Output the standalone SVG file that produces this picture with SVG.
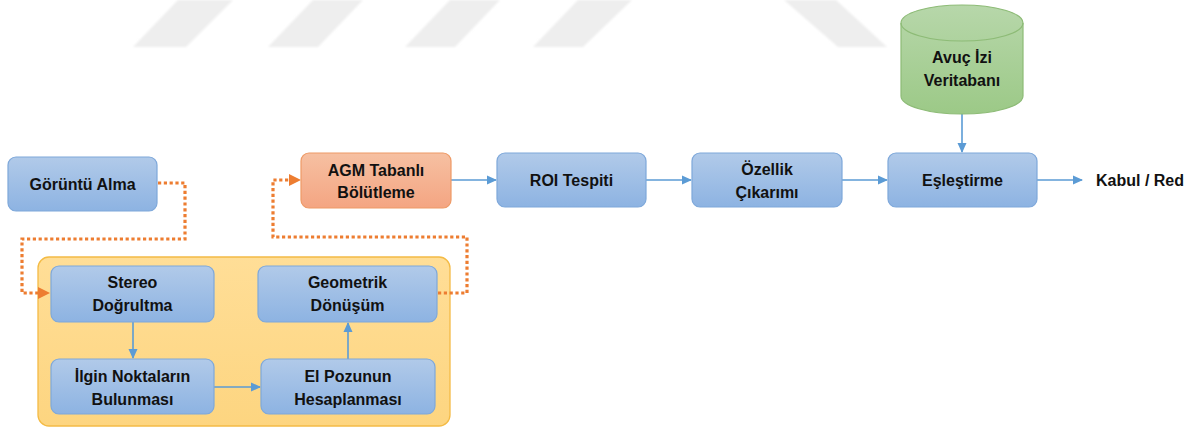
<svg xmlns="http://www.w3.org/2000/svg" width="1200" height="427" viewBox="0 0 1200 427">
<defs>
<linearGradient id="gBlue" x1="0" y1="0" x2="0" y2="1"><stop offset="0" stop-color="#B1CAE9"/><stop offset="1" stop-color="#8DB3E2"/></linearGradient>
<linearGradient id="gOrange" x1="0" y1="0" x2="0" y2="1"><stop offset="0" stop-color="#F6C0A2"/><stop offset="1" stop-color="#F4A582"/></linearGradient>
<linearGradient id="gGreen" x1="0" y1="0" x2="0" y2="1"><stop offset="0" stop-color="#B7D7AA"/><stop offset="1" stop-color="#9CC987"/></linearGradient>
<linearGradient id="gYellow" x1="0" y1="0" x2="0" y2="1"><stop offset="0" stop-color="#FFDE97"/><stop offset="1" stop-color="#FDD580"/></linearGradient>
<marker id="aBlue" markerWidth="10" markerHeight="10" refX="9" refY="5" orient="auto" markerUnits="userSpaceOnUse"><path d="M0,0.5 L10,5 L0,9.5 Z" fill="#5B9BD5"/></marker>
<marker id="aOrange" markerWidth="12" markerHeight="12" refX="11" refY="6" orient="auto" markerUnits="userSpaceOnUse"><path d="M0,0.5 L12,6 L0,11.5 Z" fill="#ED7D31"/></marker>
<filter id="blur"><feGaussianBlur stdDeviation="0.8"/></filter>
</defs>
<style>
.box{fill:url(#gBlue);stroke:#7EA8DA;stroke-width:1.2}
.t{font-family:"Liberation Sans",Arial,sans-serif;font-weight:bold;font-size:16px;fill:#111;text-anchor:middle;dominant-baseline:central}
.c{fill:none;stroke:#5B9BD5;stroke-width:1.6;marker-end:url(#aBlue)}
.d{fill:none;stroke:#ED7D31;stroke-width:3.2;stroke-dasharray:3.2 2.6}
.wm{fill:#EEEEEE}
</style>
<rect width="1200" height="427" fill="#FFFFFF"/>
<g id="watermark" filter="url(#blur)">
<polygon class="wm" points="178,0 233,0 186,47 133,47"/>
<polygon class="wm" points="313,0 363,0 318,47 268,47"/>
<polygon class="wm" points="450,0 500,0 455,47 405,47"/>
<polygon class="wm" points="578,0 632,0 583,47 533,47"/>
<polygon class="wm" points="784,0 836,0 887,47 838,47"/>
</g>
<g id="group-box">
<rect x="38" y="257" width="412" height="169" rx="11" fill="url(#gYellow)" stroke="#F4BB45" stroke-width="1.3"/>
</g>
<g id="connectors">
<path class="d" d="M158,183 H185 V239 H22 V293 H40"/>
<path d="M38,287 L50,293 L38,299 Z" fill="#ED7D31"/>
<path class="d" d="M438,293 H467 V237 H273 V180 H290"/>
<path d="M289,174 L301,180 L289,186 Z" fill="#ED7D31"/>
<path class="c" d="M133,322 V358"/>
<path class="c" d="M214,387 H260"/>
<path class="c" d="M348,359 V323"/>
<path class="c" d="M451,180 H496"/>
<path class="c" d="M646,180 H691"/>
<path class="c" d="M842,180 H887"/>
<path class="c" d="M962,114 V152"/>
<path class="c" d="M1037,180 H1082"/>
</g>
<g id="n-goruntu"><rect class="box" x="8" y="157" width="149" height="54" rx="8"/><text class="t" x="82.5" y="184">Görüntü Alma</text></g>
<g id="n-stereo"><rect class="box" x="51" y="266" width="163" height="56" rx="8"/><text class="t" x="132.5" y="282">Stereo</text><text class="t" x="132.5" y="305">Doğrultma</text></g>
<g id="n-geometrik"><rect class="box" x="258" y="266" width="179" height="56" rx="8"/><text class="t" x="347.5" y="282">Geometrik</text><text class="t" x="347.5" y="305">Dönüşüm</text></g>
<g id="n-ilgin"><rect class="box" x="51" y="359" width="163" height="55" rx="8"/><text class="t" x="132.5" y="376">İlgin Noktaların</text><text class="t" x="132.5" y="399">Bulunması</text></g>
<g id="n-elpozu"><rect class="box" x="261" y="359" width="174" height="55" rx="8"/><text class="t" x="348" y="376">El Pozunun</text><text class="t" x="348" y="399">Hesaplanması</text></g>
<g id="n-agm"><rect x="301" y="153" width="150" height="55" rx="8" fill="url(#gOrange)" stroke="#EE9A66" stroke-width="1.2"/><text class="t" x="376" y="170">AGM Tabanlı</text><text class="t" x="376" y="192">Bölütleme</text></g>
<g id="n-roi"><rect class="box" x="497" y="153" width="149" height="54" rx="8"/><text class="t" x="571.5" y="180">ROI Tespiti</text></g>
<g id="n-ozellik"><rect class="box" x="692" y="153" width="150" height="54" rx="8"/><text class="t" x="767" y="169">Özellik</text><text class="t" x="767" y="192">Çıkarımı</text></g>
<g id="n-esles"><rect class="box" x="888" y="153" width="149" height="54" rx="8"/><text class="t" x="962.5" y="180">Eşleştirme</text></g>
<g id="n-db">
<path d="M901,23 A61,18 0 0 1 1023,23 V96 A61,18 0 0 1 901,96 Z" fill="url(#gGreen)" stroke="#8DBB76" stroke-width="1.2"/>
<path d="M901,23 A61,18 0 0 0 1023,23" fill="none" stroke="#8DBB76" stroke-width="1.2"/>
<text class="t" x="962" y="57">Avuç İzi</text><text class="t" x="962" y="80">Veritabanı</text>
</g>
<g id="n-kabul"><text class="t" x="1140" y="180">Kabul / Red</text></g>
</svg>
